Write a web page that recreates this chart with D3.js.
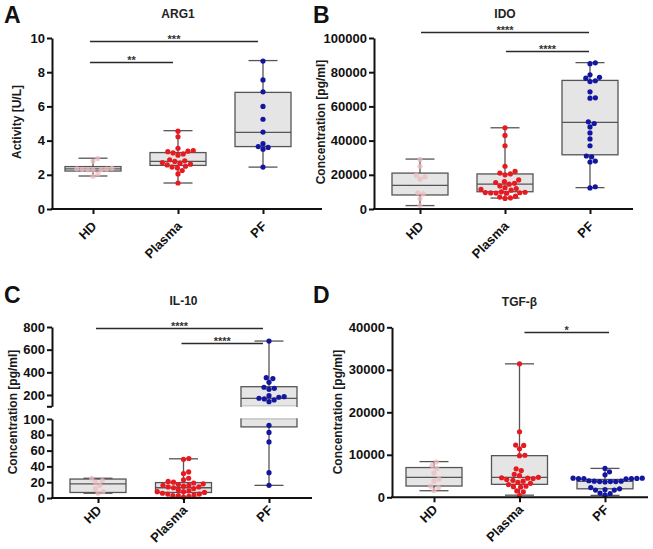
<!DOCTYPE html>
<html><head><meta charset="utf-8">
<script src="https://cdn.jsdelivr.net/npm/d3@7"></script>
<style>
html,body{margin:0;padding:0;background:#fff;}
svg{display:block;font-family:"Liberation Sans",Arial,sans-serif;}
</style></head>
<body>
<svg id="chart" width="653" height="549"></svg>
<script>
// ---------- data ----------
const categories = ["HD", "Plasma", "PF"];
const panelLetters = ["A", "B", "C", "D"];
const panelTitles = ["ARG1", "IDO", "IL-10", "TGF-β"];
const yLabels = ["Activity [U/L]", "Concentration [pg/ml]", "Concentration [pg/ml]", "Concentration [pg/ml]"];

// ARG1 (U/L)
const argHD = [2.95, 2.8, 2.38, 2.35, 2.33, 2.32, 2.3, 2.3, 2.28, 2.05, 1.92];
const argPlasma = [4.55, 4.22, 3.55, 3.42, 3.38, 3.35, 3.28, 3.22, 3.15, 2.88, 2.82, 2.78, 2.72, 2.68, 2.62, 2.58, 2.5, 2.45, 2.4, 2.25, 2.05, 1.52];
const argPF = [8.65, 7.55, 6.85, 6.0, 5.25, 4.5, 3.82, 3.65, 3.6, 3.5, 2.45];
const argBox = [[1.93, 2.22, 2.35, 2.48, 2.97], [1.52, 2.55, 2.78, 3.3, 4.58], [2.45, 3.65, 4.48, 6.82, 8.68]];
const argTicks = [0, 2, 4, 6, 8, 10];

// IDO (pg/ml)
const idoHD = [29000, 25000, 19800, 18800, 17500, 9500, 8800, 6200, 2000];
const idoPlasma = [47500, 43000, 37000, 25000, 22000, 21000, 20500, 20000, 17000, 16000, 15500, 15000, 14500, 13500, 12500, 12000, 11500, 11000, 10000, 9800, 9600, 9500, 9400, 9300, 9200, 7500, 7000, 6500, 6200];
const idoPF = [85500, 85000, 78500, 77000, 76500, 75000, 74500, 68500, 65000, 64800, 51000, 50000, 48000, 44500, 41000, 37000, 31000, 30500, 28000, 27500, 13000, 12300];
const idoBox = [[2000, 8200, 13800, 21000, 29200], [6400, 10100, 14600, 20500, 47500], [12500, 31700, 50700, 75200, 85600]];
const idoTicks = [0, 20000, 40000, 60000, 80000, 100000];

// IL-10 (pg/ml) - broken axis
const ilHD = [25, 22, 20, 16, 12, 8, 6];
const ilPlasma = [50, 49, 33, 31, 25, 23, 21, 20, 19, 18, 17, 16, 16, 15, 14, 14, 13, 12, 10, 9, 8, 8, 7, 6, 5, 5, 4, 3, 3, 2, 1];
const ilPF = [676, 353, 345, 312, 268, 259, 250, 194, 185, 180, 171, 165, 156, 141, 92, 83, 71, 32, 16];
const ilBox = [[6, 7, 18, 24, 25], [1, 7, 13, 19.5, 49.6], [16, 90, 170, 273, 676]];
const ilTicksLow = [0, 20, 40, 60, 80, 100];
const ilTicksHigh = [100, 200, 400, 600, 800];

// TGF-beta (pg/ml)
const tgfHD = [8300, 7500, 6800, 5700, 4300, 3800, 2600, 2300, 1600];
const tgfPlasma = [31400, 15400, 12300, 12200, 11400, 9900, 9800, 6700, 6300, 5400, 5100, 4700, 4600, 4500, 4400, 4200, 4000, 3800, 3500, 3300, 3000, 2600, 2500, 2400, 1500, 1300, 400];
const tgfPF = [6800, 6000, 5300, 4500, 4500, 4450, 4400, 4400, 4400, 4350, 3900, 3800, 3800, 3700, 3700, 3700, 3600, 2300, 2000, 1800, 1700, 1700, 1000, 900, 500];
const tgfBox = [[1550, 2650, 4700, 7000, 8400], [500, 3050, 4700, 9800, 31400], [450, 2000, 3750, 4200, 6800]];
const tgfTicks = [0, 10000, 20000, 30000, 40000];

// significance bars: [from, to, level (data units), label]
const argSig = [["HD", "PF", 9.8, "***"], ["HD", "Plasma", 8.6, "**"]];
const idoSig = [["HD", "PF", 103300, "****"], ["Plasma", "PF", 92200, "****"]];
const ilSig = [["HD", "PF", 788, "****"], ["Plasma", "PF", 656, "****"]];
const tgfSig = [["Plasma", "PF", 38800, "*"]];

// ---------- style ----------
const colHD = "#edb9be", colPlasma = "#e61b22", colPF = "#13169f";
const groupColors = [colHD, colPlasma, colPF];
const boxFill = "#e5e5e5", boxStroke = "#555";
const axisCol = "#111";
const FONT = "'Liberation Sans',Arial,sans-serif";

const svg = d3.select("#chart");

function swarm(values, yf, D) {
  const pts = values.map(v => ({v, y: yf(v)})).sort((a, b) => b.y - a.y);
  const placed = [];
  pts.forEach(p => {
    const iv = [];
    placed.forEach(q => {
      const dy = Math.abs(q.y - p.y);
      if (dy < D) { const w = Math.sqrt(D * D - dy * dy); iv.push([q.dx - w, q.dx + w]); }
    });
    const cands = [0];
    iv.forEach(i => cands.push(i[0], i[1]));
    cands.sort((a, b) => Math.abs(a) - Math.abs(b) || b - a);
    for (const c of cands) {
      if (iv.every(i => c <= i[0] + 1e-6 || c >= i[1] - 1e-6)) { p.dx = c; break; }
    }
    placed.push(p);
  });
  return placed;
}

function drawPanel(cfg) {
  const g = svg.append("g");
  const x = d3.scalePoint().domain(categories).range(cfg.catRange);
  const yf = cfg.yf;
  const boxW = 56, capW = 29;

  // letter & title
  g.append("text").attr("x", cfg.letterX).attr("y", cfg.letterY).text(cfg.letter)
    .attr("font-family", FONT).attr("font-weight", "bold").attr("font-size", 23).attr("fill", "#111");
  g.append("text").attr("x", d3.mean(cfg.catRange)).attr("y", cfg.titleY).text(cfg.title)
    .attr("text-anchor", "middle").attr("font-family", FONT).attr("font-weight", "bold")
    .attr("font-size", 12).attr("fill", "#222");

  // y label
  g.append("text").attr("transform", `translate(${cfg.ylabX},${cfg.ylabY}) rotate(-90)`)
    .attr("text-anchor", "middle").attr("font-family", FONT).attr("font-weight", "bold")
    .attr("font-size", 12).attr("fill", "#1a1a1a").text(cfg.ylab);

  // boxes
  cfg.box.forEach((b, i) => {
    const cx = x(categories[i]);
    const [mn, q1, md, q3, mx] = b;
    const split = cfg.broken && q1 < cfg.breakAt && q3 > cfg.breakAt;
    if (split) {
      g.append("line").attr("x1", cx).attr("x2", cx).attr("y1", yf(q3)).attr("y2", yf(mx))
        .attr("stroke", boxStroke).attr("stroke-width", 1.3);
      g.append("line").attr("x1", cx).attr("x2", cx).attr("y1", yf(q1)).attr("y2", yf(mn))
        .attr("stroke", boxStroke).attr("stroke-width", 1.3);
    } else {
      g.append("line").attr("x1", cx).attr("x2", cx).attr("y1", yf(mn)).attr("y2", yf(mx))
        .attr("stroke", boxStroke).attr("stroke-width", 1.3);
    }
    [mn, mx].forEach(v => g.append("line").attr("x1", cx - capW / 2).attr("x2", cx + capW / 2)
      .attr("y1", yf(v)).attr("y2", yf(v)).attr("stroke", boxStroke).attr("stroke-width", 1.3));
    if (split) {
      const yTopSeg = cfg.yHigh(cfg.breakAt), yLowSeg = cfg.yLow(cfg.breakAt);
      g.append("rect").attr("x", cx - boxW / 2).attr("width", boxW)
        .attr("y", yf(q3)).attr("height", yTopSeg - yf(q3))
        .attr("fill", boxFill).attr("stroke", boxStroke).attr("stroke-width", 1.3);
      g.append("rect").attr("x", cx - boxW / 2).attr("width", boxW)
        .attr("y", yLowSeg).attr("height", yf(q1) - yLowSeg)
        .attr("fill", boxFill).attr("stroke", boxStroke).attr("stroke-width", 1.3);
      g.append("line").attr("x1", cx - boxW / 2 + 0.7).attr("x2", cx + boxW / 2 - 0.7)
        .attr("y1", yTopSeg).attr("y2", yTopSeg).attr("stroke", boxFill).attr("stroke-width", 1.4);
      g.append("line").attr("x1", cx - boxW / 2 + 0.7).attr("x2", cx + boxW / 2 - 0.7)
        .attr("y1", yLowSeg).attr("y2", yLowSeg).attr("stroke", boxFill).attr("stroke-width", 1.4);
    } else {
      g.append("rect").attr("x", cx - boxW / 2).attr("width", boxW)
        .attr("y", yf(q3)).attr("height", yf(q1) - yf(q3))
        .attr("fill", boxFill).attr("stroke", boxStroke).attr("stroke-width", 1.3);
    }
    g.append("line").attr("x1", cx - boxW / 2).attr("x2", cx + boxW / 2)
      .attr("y1", yf(md)).attr("y2", yf(md)).attr("stroke", boxStroke).attr("stroke-width", 1.3);
  });

  // points
  cfg.groups.forEach((vals, i) => {
    const cx = x(categories[i]);
    const pts = swarm(vals, yf, 5.4);
    g.selectAll(null).data(pts).join("circle")
      .attr("cx", d => cx + d.dx).attr("cy", d => d.y).attr("r", 2.6)
      .attr("fill", groupColors[i]).attr("opacity", i === 0 ? 0.75 : 1);
  });

  // axes
  const axG = g.append("g");
  cfg.yAxes.forEach(a => {
    const ag = axG.append("g").attr("transform", `translate(${cfg.left},0)`)
      .call(d3.axisLeft(a.scale).tickValues(a.ticks).tickSize(5).tickPadding(2)
        .tickFormat(a.fmt || d3.format("d")).tickSizeOuter(0));
    ag.select(".domain").attr("stroke", axisCol).attr("stroke-width", 2);
    ag.selectAll(".tick line").attr("stroke", axisCol).attr("stroke-width", 2);
    ag.selectAll(".tick text").attr("font-family", FONT).attr("font-weight", "bold")
      .attr("font-size", 13).attr("fill", "#111");
  });
  const xg = axG.append("g").attr("transform", `translate(0,${cfg.y0})`)
    .call(d3.axisBottom(x).tickSize(5).tickSizeOuter(0));
  xg.select(".domain").attr("d", `M${cfg.left - 1},0H${cfg.right}`).attr("stroke", axisCol).attr("stroke-width", 2);
  xg.selectAll(".tick line").attr("stroke", axisCol).attr("stroke-width", 2);
  xg.selectAll(".tick text").attr("font-family", FONT).attr("font-weight", "bold")
    .attr("font-size", 13).attr("fill", "#111")
    .attr("text-anchor", "end").attr("dy", null).attr("y", null)
    .attr("transform", `translate(4,${cfg.xLabDy}) rotate(-45)`);

  // significance
  cfg.sig.forEach(s => {
    const x1 = x(s[0]) + cfg.sigDx[0], x2 = x(s[1]) + cfg.sigDx[1];
    const yy = Math.round(yf(s[2])) + 0.5;
    g.append("line").attr("x1", x1).attr("x2", x2).attr("y1", yy).attr("y2", yy)
      .attr("stroke", "#2a2a2a").attr("stroke-width", 1.3);
    g.append("text").attr("x", (x1 + x2) / 2).attr("y", yy + 1).attr("text-anchor", "middle")
      .attr("font-family", FONT).attr("font-size", 11).attr("font-weight", "bold")
      .attr("fill", "#333").text(s[3]);
  });
}

// Panel A
const yA = d3.scaleLinear().domain([0, 10]).range([209, 38]);
drawPanel({letter: panelLetters[0], letterX: 4, letterY: 23, title: panelTitles[0], titleY: 18,
  ylab: yLabels[0], ylabX: 21, ylabY: 122, xLabDy: 18,
  left: 52, right: 322, y0: 209, catRange: [93, 263], yf: yA,
  yAxes: [{scale: yA, ticks: argTicks}],
  box: argBox, groups: [argHD, argPlasma, argPF], sig: argSig, sigDx: [-3, -5]});

// Panel B
const yB = d3.scaleLinear().domain([0, 100000]).range([209, 38]);
drawPanel({letter: panelLetters[1], letterX: 313, letterY: 23, title: panelTitles[1], titleY: 18,
  ylab: yLabels[1], ylabX: 325, ylabY: 122, xLabDy: 18,
  left: 374, right: 633, y0: 209, catRange: [420, 590], yf: yB,
  yAxes: [{scale: yB, ticks: idoTicks}],
  box: idoBox, groups: [idoHD, idoPlasma, idoPF], sig: idoSig, sigDx: [1, -1]});

// Panel C (broken axis)
const yCLow = d3.scaleLinear().domain([0, 100]).range([498, 419]);
const yCHigh = d3.scaleLinear().domain([100, 800]).range([406.3, 327]);
const yC = v => v <= 100 ? yCLow(v) : yCHigh(v);
drawPanel({letter: panelLetters[2], letterX: 4, letterY: 303, title: panelTitles[2], titleY: 305,
  ylab: yLabels[2], ylabX: 17, ylabY: 412, xLabDy: 13,
  left: 52, right: 312, y0: 498, catRange: [98, 269], yf: yC,
  broken: true, breakAt: 100, yLow: yCLow, yHigh: yCHigh,
  yAxes: [{scale: yCLow, ticks: ilTicksLow},
          {scale: yCHigh, ticks: ilTicksHigh, fmt: d => d === 100 ? "" : d3.format("d")(d)}],
  box: ilBox, groups: [ilHD, ilPlasma, ilPF], sig: ilSig, sigDx: [-2, -6]});

// Panel D
const yD = d3.scaleLinear().domain([0, 40000]).range([497.3, 327.3]);
drawPanel({letter: panelLetters[3], letterX: 313, letterY: 303, title: panelTitles[3], titleY: 306,
  ylab: yLabels[3], ylabX: 342, ylabY: 412, xLabDy: 13,
  left: 392, right: 648, y0: 497.3, catRange: [434, 605], yf: yD,
  yAxes: [{scale: yD, ticks: tgfTicks}],
  box: tgfBox, groups: [tgfHD, tgfPlasma, tgfPF], sig: tgfSig, sigDx: [5, 4]});
</script>
</body></html>
